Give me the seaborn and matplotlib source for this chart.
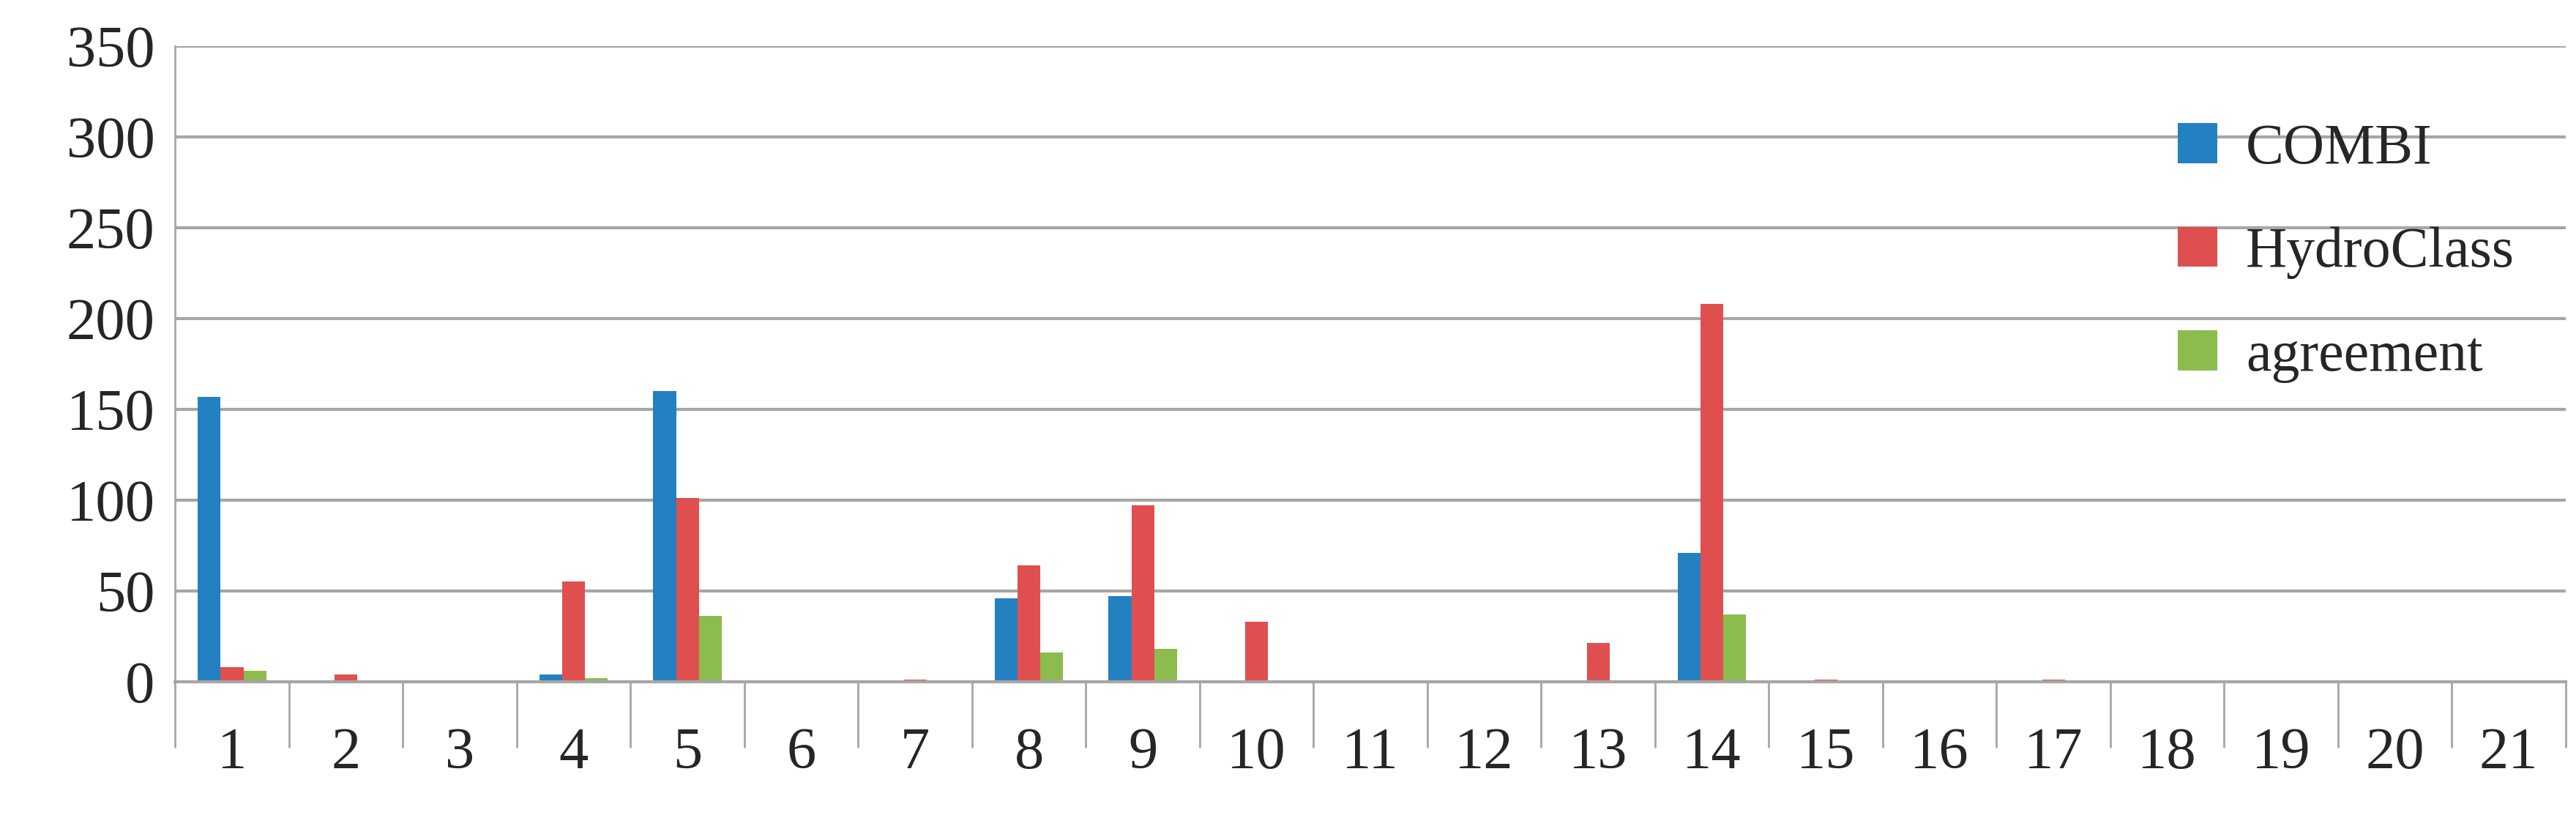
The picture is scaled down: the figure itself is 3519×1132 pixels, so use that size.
import matplotlib
matplotlib.use("Agg")
import matplotlib.pyplot as plt
import seaborn as sns
import pandas as pd
import numpy as np

categories = [str(i) for i in range(1, 22)]
combi =      [157, 0, 0, 4, 160, 0, 0, 46, 47, 0, 0, 0, 0, 71, 0, 0, 0, 0, 0, 0, 0]
hydroclass = [8, 4, 0, 55, 101, 0, 1, 64, 97, 33, 0, 0, 21, 208, 1, 0, 1, 0, 0, 0, 0]
agreement =  [6, 0, 0, 2, 36, 0, 0, 16, 18, 0, 0, 0, 0, 37, 0, 0, 0, 0, 0, 0, 0]
series = ["COMBI", "HydroClass", "agreement"]
colors = ["#2380C1", "#E04F4F", "#8CBB4E"]

df = pd.DataFrame({
    "cat": categories * 3,
    "value": combi + hydroclass + agreement,
    "series": [s for s in series for _ in categories],
})

sns.set_theme(style="white")
plt.rcParams['font.family'] = ['Liberation Serif', 'DejaVu Serif']

fig = plt.figure(figsize=(35.19, 11.32), dpi=100)
ax = fig.add_axes([0.068, 0.178, 0.928, 0.766])
sns.barplot(data=df, x="cat", y="value", hue="series", palette=colors,
            width=0.6, ax=ax, saturation=1, linewidth=0)

ax.set_ylim(0, 350)
ax.set_xlim(-0.5, 20.5)
ax.set_yticks(range(0, 351, 50))
ax.yaxis.grid(True, color="#A6A6A6", linewidth=3)
ax.set_axisbelow(True)
for s in ["top", "right"]:
    ax.spines[s].set_visible(False)
ax.spines["left"].set_color("#A6A6A6")
ax.spines["left"].set_linewidth(2)
ax.spines["bottom"].set_color("#A6A6A6")
ax.spines["bottom"].set_linewidth(3)
ax.set_xlabel("")
ax.set_ylabel("")
ax.tick_params(axis="x", which="major", length=0, pad=45, labelsize=58)
ax.tick_params(axis="y", length=0, pad=20, labelsize=58)
ax.set_xticks(np.arange(-0.5, 21, 1), minor=True)
ax.tick_params(axis="x", which="minor", bottom=True, length=65, width=2,
               color="#A6A6A6", direction="out")

handles, labels = ax.get_legend_handles_labels()
ax.legend(handles, labels, loc="upper right", bbox_to_anchor=(1.0, 0.96),
          frameon=False, fontsize=56, handlelength=0.7, handleheight=0.7,
          labelspacing=0.9, handletextpad=0.5)

fig.savefig("out.png", dpi=100)
